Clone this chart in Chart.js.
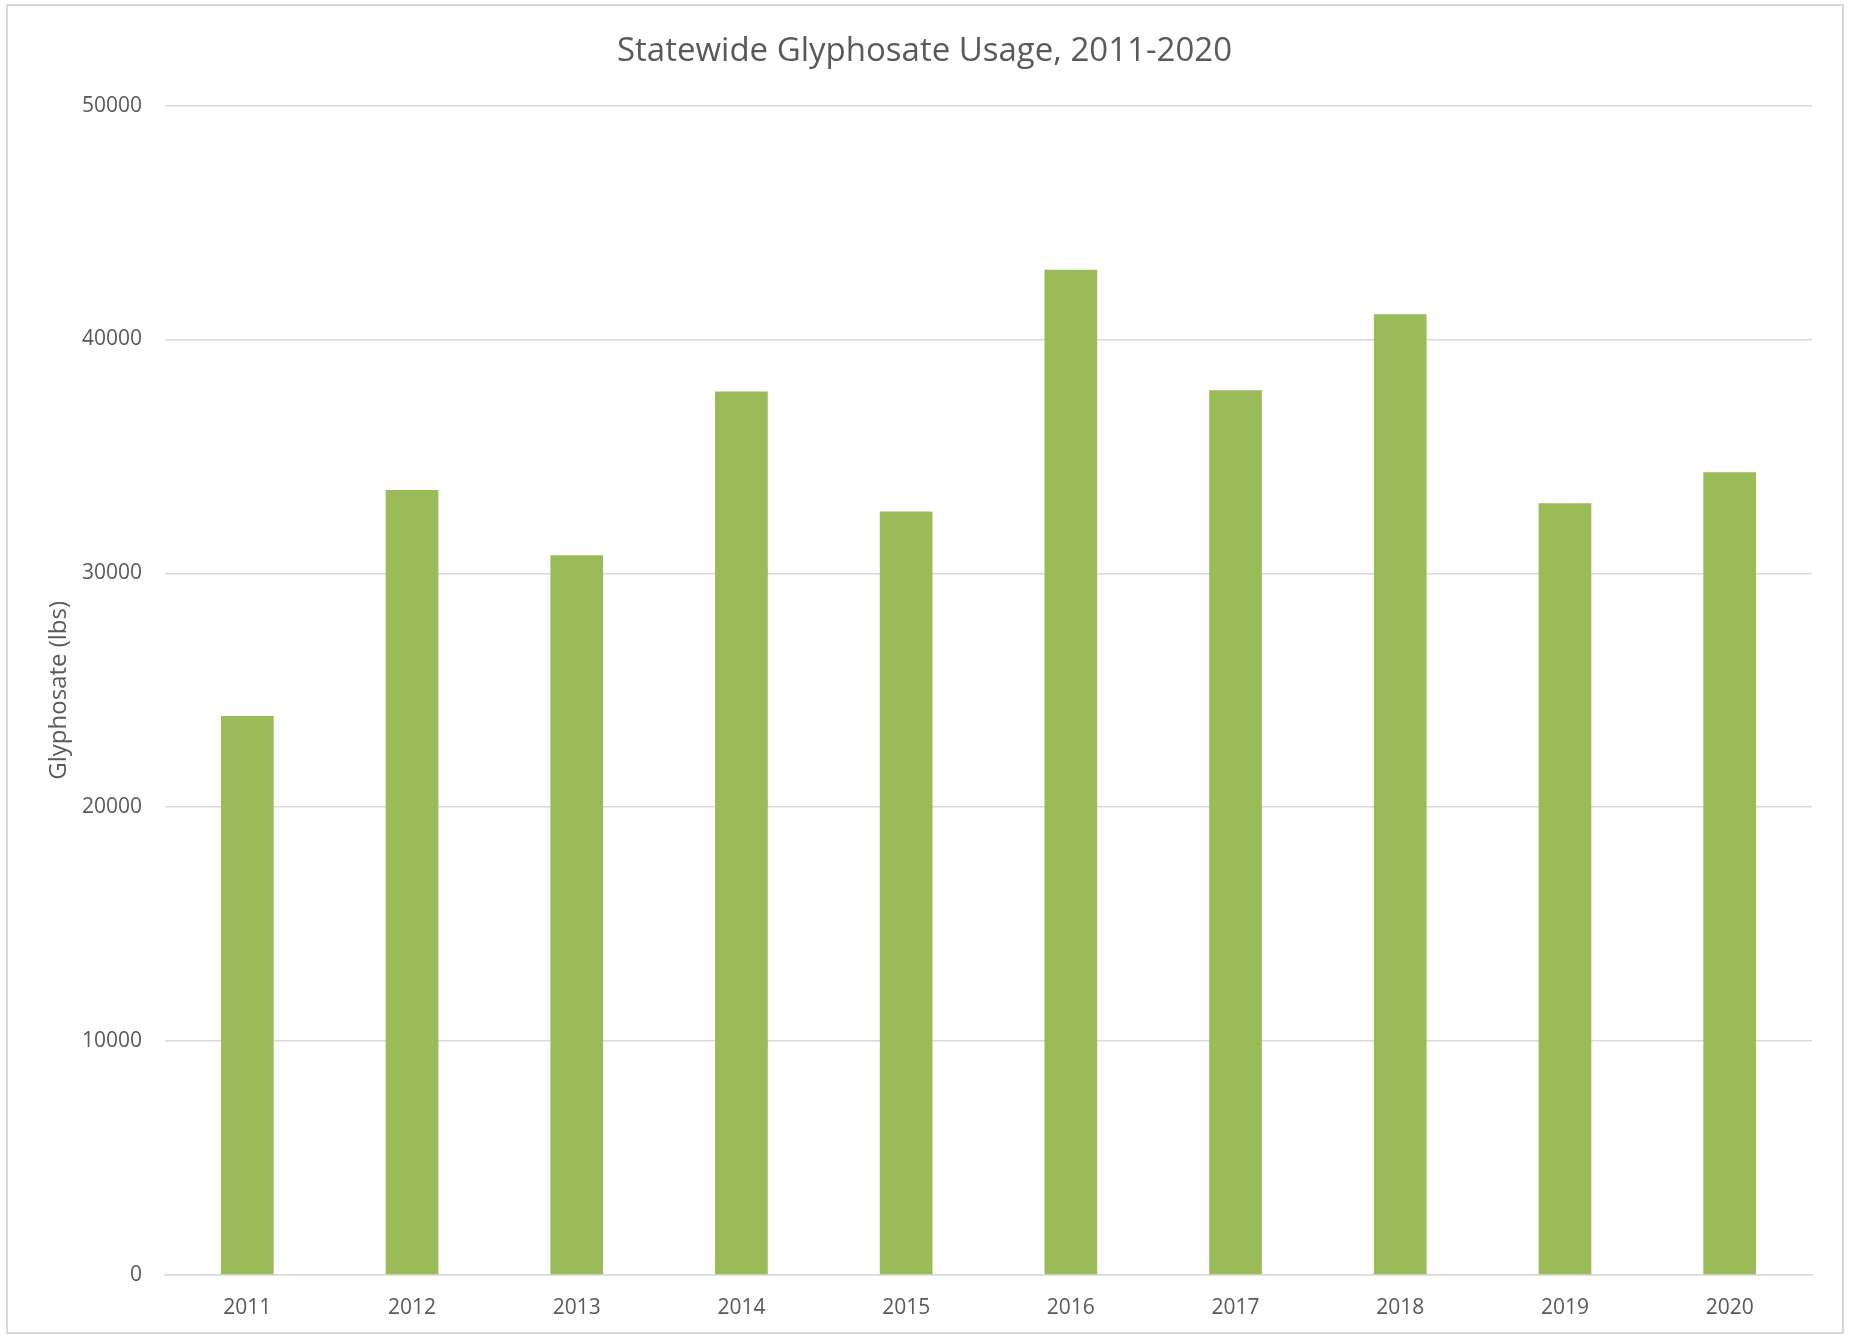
<!DOCTYPE html>
<html>
<head>
<meta charset="utf-8">
<title>Statewide Glyphosate Usage, 2011-2020</title>
<script src="https://cdn.jsdelivr.net/npm/chart.js@4/dist/chart.umd.min.js"></script>
<style>
    html, body { margin: 0; padding: 0; background: #fff; }
    #wrap { position: relative; width: 1849px; height: 1335px; }
    #frame {
        position: absolute; left: 6px; top: 4px; width: 1834px; height: 1326px;
        border: 2px solid #d9d9d9; pointer-events: none;
    }
</style>
</head>
<body>
<div id="wrap">
    <canvas id="usageChart" width="1849" height="1335"></canvas>
    <div id="frame"></div>
</div>
<script>
const years = ["2011", "2012", "2013", "2014", "2015", "2016", "2017", "2018", "2019", "2020"];
const glyphosateLbs = [23900, 33560, 30770, 37780, 32650, 42980, 37830, 41080, 33000, 34320];
const yTicks = [0, 10000, 20000, 30000, 40000, 50000];

const textGray = "#595959";
const gridGray = "#d9d9d9";

const ctx = document.getElementById("usageChart").getContext("2d");

new Chart(ctx, {
    type: "bar",
    data: {
        labels: years,
        datasets: [
            {
                label: "Glyphosate (lbs)",
                data: glyphosateLbs,
                backgroundColor: "#9bbb59",
                borderWidth: 0,
                categoryPercentage: 1,
                barPercentage: 0.32,
            },
        ],
    },
    options: {
        responsive: false,
        animation: false,
        devicePixelRatio: 1,
        // equal side padding keeps the title centred on the canvas
        layout: { padding: { left: 37, right: 37, top: 0, bottom: 0 } },
        plugins: {
            legend: { display: false },
            tooltip: { enabled: false },
            title: {
                display: true,
                text: "Statewide Glyphosate Usage, 2011-2020",
                color: textGray,
                font: { family: "'Open Sans'", size: 33, weight: "normal" },
                padding: { top: 32, bottom: 34 },
            },
        },
        scales: {
            x: {
                grid: { display: false, drawTicks: false },
                border: { display: true, color: gridGray, width: 1.5 },
                ticks: {
                    color: textGray,
                    font: { family: "'Open Sans'", size: 21 },
                    padding: 20,
                    maxRotation: 0,
                },
                afterFit: (scale) => { scale.height = 60; },
            },
            y: {
                min: 0,
                max: 50000,
                grid: { color: gridGray, lineWidth: 1.5, drawTicks: false },
                border: { display: false },
                ticks: {
                    stepSize: 10000,
                    color: textGray,
                    font: { family: "'Open Sans'", size: 21 },
                    padding: 23,
                    callback: (value) => (yTicks.includes(value) ? String(value) : ""),
                },
                title: {
                    display: true,
                    text: "Glyphosate (lbs)",
                    color: textGray,
                    font: { family: "'Open Sans'", size: 24 },
                    padding: { top: 8, bottom: 0 },
                },
                afterFit: (scale) => { scale.width = 128; },
            },
        },
    },
});
</script>
</body>
</html>
